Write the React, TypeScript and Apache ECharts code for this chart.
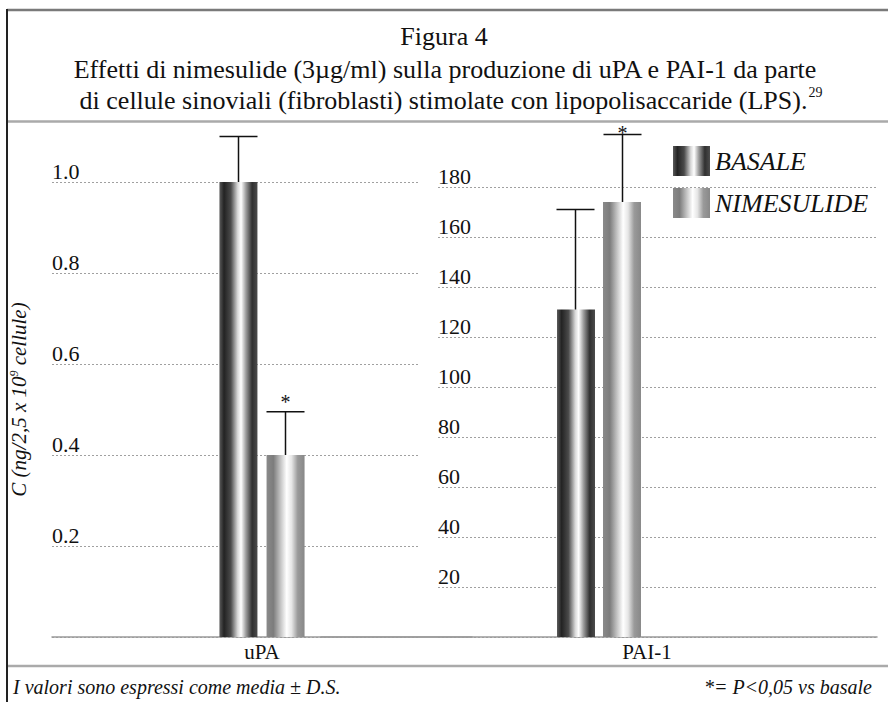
import React, { useEffect, useRef } from "react";
import * as echarts from "echarts";

// ---- data ----
const CATEGORIES_UPA = ["uPA"];
const CATEGORIES_PAI = ["PAI-1"];
const SERIES_NAMES = ["BASALE", "NIMESULIDE"];
const UPA_BASALE = [1.0];
const UPA_BASALE_SD = [0.1];
const UPA_NIM = [0.4];
const UPA_NIM_SD = [0.095];
const UPA_NIM_SIG = [1];
const PAI_BASALE = [131];
const PAI_BASALE_SD = [40];
const PAI_NIM = [174];
const PAI_NIM_SD = [27];
const PAI_NIM_SIG = [1];
const UPA_AXIS = { min: 0, max: 1.0, interval: 0.2 };
const PAI_AXIS = { min: 0, max: 180, interval: 20 };
const TITLE_LINES = [
  "Figura 4",
  "Effetti di nimesulide (3µg/ml) sulla produzione di uPA e PAI-1 da parte",
  "di cellule sinoviali (fibroblasti) stimolate con lipopolisaccaride (LPS).",
];
const TITLE_REF = "29";
const FOOT_LEFT = "I valori sono espressi come media ± D.S.";
const FOOT_RIGHT = "*= P<0,05 vs basale";

const SERIF = "Liberation Serif";
const BAR_W = 38;
const GAP = 9;

const basaleGrad = new echarts.graphic.LinearGradient(0, 0, 1, 0, [
  { offset: 0, color: "#5a5a5a" },
  { offset: 0.12, color: "#232323" },
  { offset: 0.3, color: "#4a4a4a" },
  { offset: 0.48, color: "#d8d8d8" },
  { offset: 0.57, color: "#ffffff" },
  { offset: 0.7, color: "#9a9a9a" },
  { offset: 0.86, color: "#303030" },
  { offset: 1, color: "#4c4c4c" },
]);
const nimGrad = new echarts.graphic.LinearGradient(0, 0, 1, 0, [
  { offset: 0, color: "#8a8a8a" },
  { offset: 0.18, color: "#7c7c7c" },
  { offset: 0.38, color: "#c8c8c8" },
  { offset: 0.53, color: "#ffffff" },
  { offset: 0.66, color: "#e6e6e6" },
  { offset: 0.82, color: "#9a9a9a" },
  { offset: 1, color: "#888888" },
]);

function errData(base: number[], baseSd: number[], nim: number[], nimSd: number[], sig: number[]) {
  const out: number[][] = [];
  base.forEach((v, i) => {
    out.push([i, v, baseSd[i], -1, 0]);
    out.push([i, nim[i], nimSd[i], 1, sig[i]]);
  });
  return out;
}

function renderErr(params: any, api: any) {
  const idx = api.value(0);
  const v = api.value(1);
  const sd = api.value(2);
  const sign = api.value(3);
  const sig = api.value(4);
  const p0 = api.coord([idx, v]);
  const p1 = api.coord([idx, v + sd]);
  const x = p0[0] + (sign * (BAR_W + GAP)) / 2;
  const children: any[] = [
    { type: "line", shape: { x1: x, y1: p0[1], x2: x, y2: p1[1] }, style: { stroke: "#111", lineWidth: 1.5 } },
    { type: "line", shape: { x1: x - BAR_W / 2, y1: p1[1], x2: x + BAR_W / 2, y2: p1[1] }, style: { stroke: "#111", lineWidth: 1.5 } },
  ];
  if (sig) {
    children.push({
      type: "text",
      x: x,
      y: Math.max(p1[1] - 10, 133),
      style: { text: "*", fontSize: 20, fontFamily: SERIF, fill: "#111", align: "center", verticalAlign: "middle" },
    });
  }
  return { type: "group", children };
}

export default function App() {
  const ref = useRef<HTMLDivElement>(null);
  useEffect(() => {
    if (!ref.current) return;
    const chart = echarts.init(ref.current, null, { renderer: "svg" });
    const valueAxisBase = (gridIndex: number, ax: any, showLabels: boolean) => ({
      type: "value",
      gridIndex,
      min: ax.min,
      max: ax.max,
      interval: ax.interval,
      axisLine: { show: false },
      axisTick: { show: false },
      splitLine: showLabels ? { show: true, lineStyle: { color: "#a0a0a0", width: 1, type: [2, 2] } } : { show: false },
      axisLabel: showLabels
        ? {
            show: true,
            inside: true,
            margin: 0,
            align: "left",
            verticalAlign: "bottom",
            showMinLabel: false,
            fontSize: 22,
            fontFamily: SERIF,
            color: "#111",
            formatter: (val: number) => (ax.max <= 1 ? val.toFixed(1) : String(val)),
          }
        : { show: false },
    });
    const catAxis = (gridIndex: number, data: string[], show: boolean, pad: number) => ({
      type: "category",
      gridIndex,
      data,
      show,
      axisLine: { show: true, lineStyle: { color: "#9a9a9a", width: 1.5 } },
      axisTick: { show: false },
      axisLabel: { fontSize: 21, fontFamily: SERIF, color: "#111", margin: 4, padding: [0, 0, 0, pad] },
    });
    const titleStyle = { fontSize: 26, fontFamily: SERIF, fill: "#111", align: "center", verticalAlign: "middle" };
    const option: any = {
      animation: false,
      backgroundColor: "#ffffff",
      legend: {
        data: SERIES_NAMES,
        orient: "vertical",
        left: 668,
        top: 141,
        icon: "rect",
        itemWidth: 37,
        itemHeight: 30,
        itemGap: 12,
        selectedMode: false,
        textStyle: { fontSize: 26, fontStyle: "italic", fontFamily: SERIF, color: "#111" },
      },
      grid: [
        { left: 52, top: 182, width: 366, height: 455 },
        { left: 438, top: 187, width: 439, height: 450 },
        { left: 52, top: 182, width: 420, height: 455 },
        { left: 321, top: 187, width: 556, height: 450 },
      ],
      xAxis: [
        { type: "category", gridIndex: 0, data: CATEGORIES_UPA, show: false },
        { type: "category", gridIndex: 1, data: CATEGORIES_PAI, show: false },
        catAxis(2, CATEGORIES_UPA, true, 0),
        catAxis(3, CATEGORIES_PAI, true, 96),
      ],
      yAxis: [
        {
          ...valueAxisBase(0, UPA_AXIS, true),
          name: "{t|C (ng/2,5 x 10}{sup|9}{t| cellule)}",
          nameLocation: "middle",
          nameRotate: 90,
          nameGap: 22,
          nameTextStyle: {
            fontSize: 21,
            fontStyle: "italic",
            fontFamily: SERIF,
            color: "#111",
            padding: [0, 0, 0, 20],
            rich: {
              t: { fontSize: 21, fontStyle: "italic", fontFamily: SERIF, color: "#111", lineHeight: 22 },
              sup: { fontSize: 12, fontStyle: "italic", fontFamily: SERIF, color: "#111", verticalAlign: "top", lineHeight: 22 },
            },
          },
        },
        valueAxisBase(1, PAI_AXIS, true),
        valueAxisBase(2, UPA_AXIS, false),
        valueAxisBase(3, PAI_AXIS, false),
      ],
      graphic: [
        { type: "line", shape: { x1: 7, y1: 10, x2: 888, y2: 10 }, style: { stroke: "#7a7a7a", lineWidth: 2.5 } },
        { type: "line", shape: { x1: 7, y1: 9, x2: 7, y2: 702 }, style: { stroke: "#222", lineWidth: 2 } },
        { type: "line", shape: { x1: 8, y1: 121.5, x2: 888, y2: 121.5 }, style: { stroke: "#aaaaaa", lineWidth: 2.5 } },
        { type: "line", shape: { x1: 8, y1: 666, x2: 888, y2: 666 }, style: { stroke: "#aaaaaa", lineWidth: 2.5 } },
        { type: "text", x: 444, y: 36, style: { ...titleStyle, text: TITLE_LINES[0] } },
        { type: "text", x: 445, y: 69, style: { ...titleStyle, text: TITLE_LINES[1] } },
        {
          type: "text",
          x: 451,
          y: 100,
          style: {
            ...titleStyle,
            text: "{t|" + TITLE_LINES[2] + "}{sup|" + TITLE_REF + "}",
            rich: {
              t: { fontSize: 26, fontFamily: SERIF, fill: "#111", lineHeight: 30 },
              sup: { fontSize: 14, fontFamily: SERIF, fill: "#111", verticalAlign: "top", lineHeight: 30, padding: [0, 0, 0, 1] },
            },
          },
        },
        {
          type: "text",
          x: 13,
          y: 687,
          style: { text: FOOT_LEFT, fontSize: 20, fontStyle: "italic", fontFamily: SERIF, fill: "#111", verticalAlign: "middle", align: "left" },
        },
        {
          type: "text",
          x: 872,
          y: 687,
          style: { text: FOOT_RIGHT, fontSize: 20, fontStyle: "italic", fontFamily: SERIF, fill: "#111", verticalAlign: "middle", align: "right" },
        },
      ],
      series: [
        { name: "BASALE", type: "bar", xAxisIndex: 2, yAxisIndex: 2, data: UPA_BASALE, barWidth: BAR_W, barGap: "24%", itemStyle: { color: basaleGrad } },
        { name: "NIMESULIDE", type: "bar", xAxisIndex: 2, yAxisIndex: 2, data: UPA_NIM, barWidth: BAR_W, barGap: "24%", itemStyle: { color: nimGrad } },
        { name: "BASALE", type: "bar", xAxisIndex: 3, yAxisIndex: 3, data: PAI_BASALE, barWidth: BAR_W, barGap: "21%", itemStyle: { color: basaleGrad } },
        { name: "NIMESULIDE", type: "bar", xAxisIndex: 3, yAxisIndex: 3, data: PAI_NIM, barWidth: BAR_W, barGap: "21%", itemStyle: { color: nimGrad } },
        {
          type: "custom",
          xAxisIndex: 2,
          yAxisIndex: 2,
          z: 5,
          clip: false,
          renderItem: renderErr,
          data: errData(UPA_BASALE, UPA_BASALE_SD, UPA_NIM, UPA_NIM_SD, UPA_NIM_SIG),
        },
        {
          type: "custom",
          xAxisIndex: 3,
          yAxisIndex: 3,
          z: 5,
          clip: false,
          renderItem: renderErr,
          data: errData(PAI_BASALE, PAI_BASALE_SD, PAI_NIM, PAI_NIM_SD, PAI_NIM_SIG),
        },
      ],
    };
    chart.setOption(option);
    return () => chart.dispose();
  }, []);
  return <div ref={ref} style={{ position: "fixed", left: 0, top: 0, width: 888, height: 702, background: "#fff" }} />;
}
